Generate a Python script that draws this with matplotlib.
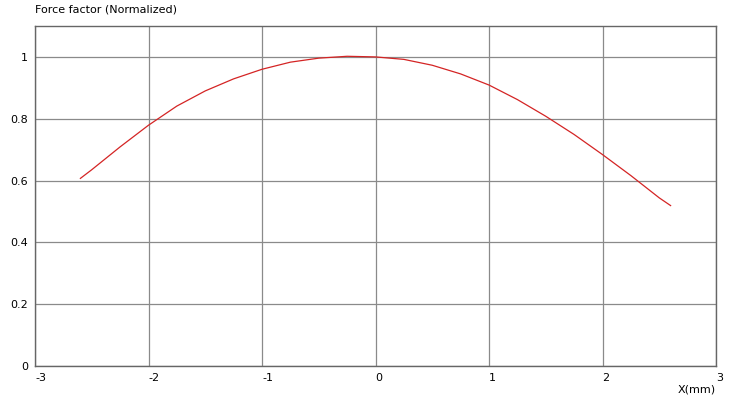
import matplotlib
matplotlib.use("Agg")
import matplotlib.pyplot as plt

# valeurs
x_mm = [-2.6, -2.5, -2.25, -2.0, -1.75, -1.5, -1.25, -1.0, -0.75, -0.5, -0.25,
        0.0, 0.25, 0.5, 0.75, 1.0, 1.25, 1.5, 1.75, 2.0, 2.25, 2.5, 2.6]
force = [0.607, 0.635, 0.709, 0.779, 0.841, 0.890, 0.929, 0.960, 0.983, 0.996, 1.002,
         1.000, 0.992, 0.973, 0.945, 0.909, 0.862, 0.808, 0.749, 0.684, 0.616, 0.544, 0.519]
x_ticks = [-3, -2, -1, 0, 1, 2, 3]
y_ticks = [0, 0.2, 0.4, 0.6, 0.8, 1]
y_labels = ['0', '0.2', '0.4', '0.6', '0.8', '1']

plt.rcParams['font.family'] = ['DejaVu Sans']
fig = plt.figure(figsize=(7.29, 4), dpi=100)
ax = fig.add_axes([35 / 729, 34 / 400, 681 / 729, 340 / 400])

ax.plot(x_mm, force, color='#d42424', lw=0.9)

ax.set_xlim(-3, 3)
ax.set_ylim(0, 1.1)
ax.set_xticks(x_ticks)
ax.set_xticklabels([str(t) for t in x_ticks], ha='left')
ax.set_yticks(y_ticks)
ax.set_yticklabels(y_labels)
ax.tick_params(length=0, labelsize=8, pad=5)
ax.grid(True, color='#8a8a8a', lw=0.9)
for s in ax.spines.values():
    s.set_color('#666666')
    s.set_linewidth(1)

fig.text(35 / 729, 1 - 9 / 400, 'Force factor (Normalized)', fontsize=8, va='center', ha='left')
fig.text(716 / 729, 1 - 390 / 400, 'X(mm)', fontsize=8, va='center', ha='right')

fig.savefig('out.png', dpi=100)
